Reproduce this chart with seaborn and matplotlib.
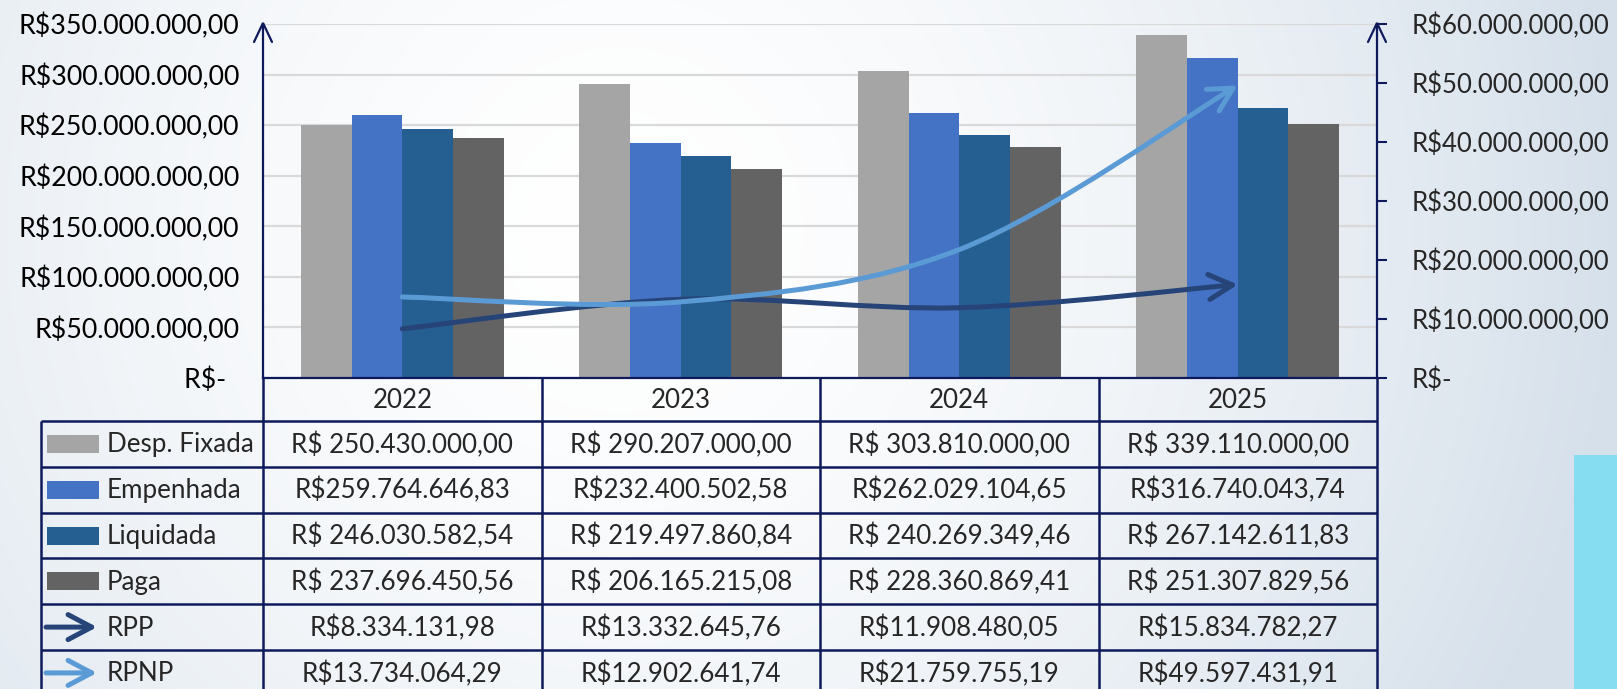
import numpy as np
import pandas as pd
import matplotlib
matplotlib.use("Agg")
import matplotlib.pyplot as plt
from matplotlib.patches import Rectangle, FancyArrowPatch
from matplotlib.path import Path
from matplotlib.ticker import FuncFormatter, MultipleLocator
import seaborn as sns

# dados
anos = ["2022", "2023", "2024", "2025"]
series_barras = ["Desp. Fixada", "Empenhada", "Liquidada", "Paga"]
desp_fixada = [250430000.00, 290207000.00, 303810000.00, 339110000.00]
empenhada = [259764646.83, 232400502.58, 262029104.65, 316740043.74]
liquidada = [246030582.54, 219497860.84, 240269349.46, 267142611.83]
paga = [237696450.56, 206165215.08, 228360869.41, 251307829.56]
rpp = [8334131.98, 13332645.76, 11908480.05, 15834782.27]
rpnp = [13734064.29, 12902641.74, 21759755.19, 49597431.91]

cores_barras = ["#a5a5a5", "#4472c4", "#255e91", "#636363"]
cor_rpp = "#264478"
cor_rpnp = "#5b9bd5"
navy = "#0e1a5c"

sns.set_style("white")
plt.rcParams["font.family"] = ["Lato", "DejaVu Sans"]
FS = 18.7
FS_ESQ = 19.3
FS_DIR = 18.5

W, H = 1617, 689
fig = plt.figure(figsize=(W / 100, H / 100), dpi=100)

# fundo em degradê
yy, xx = np.mgrid[0:H, 0:W]
d = np.hypot((xx - 620) / 1000, (yy - 230) / 1000)
t = np.clip(d, 0, 1) ** 1.6
c0 = np.array([1.0, 1.0, 1.0])
c1 = np.array([0.84, 0.88, 0.92])
img = c0 + (c1 - c0) * t[..., None]
bg = fig.add_axes([0, 0, 1, 1], zorder=-10)
bg.imshow(img, extent=[0, W, H, 0], aspect="auto", interpolation="bilinear")
bg.add_patch(Rectangle((1574, 455), W - 1574, H - 455, color="#86dcf0", lw=0))
bg.set_xlim(0, W)
bg.set_ylim(H, 0)
bg.axis("off")

# área do gráfico
L, R, T, B = 263, 1377, 24, 378
ax = fig.add_axes([L / W, 1 - B / H, (R - L) / W, (B - T) / H])
ax.patch.set_alpha(0)

linhas = []
for s, vals in zip(series_barras, [desp_fixada, empenhada, liquidada, paga]):
    for a, v in zip(anos, vals):
        linhas.append({"ano": a, "serie": s, "valor": v})
df = pd.DataFrame(linhas)

sns.barplot(data=df, x="ano", y="valor", hue="serie", order=anos, hue_order=series_barras,
            palette=cores_barras, width=0.728, gap=0, saturation=1, errorbar=None,
            linewidth=0, legend=False, ax=ax)


def brl(v, espaco=False):
    s = f"{v:,.2f}".replace(",", "X").replace(".", ",").replace("X", ".")
    return ("R$ " if espaco else "R$") + s


ax.set_xlim(-0.5, 3.5)
ax.set_ylim(0, 350e6)
ax.yaxis.set_major_locator(MultipleLocator(50e6))
ax.yaxis.set_major_formatter(FuncFormatter(lambda v, p: "R$-  " if v == 0 else brl(v)))
ax.tick_params(axis="y", length=0, pad=17, labelsize=FS_ESQ, labelcolor="black")
ax.tick_params(axis="x", length=0, labelbottom=False)
ax.set_xlabel("")
ax.set_ylabel("")
ax.yaxis.grid(True, color="#d9d9d9", lw=1.6)
ax.set_axisbelow(True)
for k in ["top", "right"]:
    ax.spines[k].set_visible(False)
for k in ["left", "bottom"]:
    ax.spines[k].set_color(navy)
    ax.spines[k].set_linewidth(1.6)

ax2 = ax.twinx()
ax2.set_ylim(0, 60e6)
ax2.yaxis.set_major_locator(MultipleLocator(10e6))
ax2.yaxis.set_major_formatter(FuncFormatter(lambda v, p: "R$-" if v == 0 else brl(v)))
ax2.tick_params(axis="y", length=7, width=1.5, color=navy, pad=18, labelsize=FS_DIR)
for k in ["top", "left", "bottom"]:
    ax2.spines[k].set_visible(False)
ax2.spines["right"].set_color(navy)
ax2.spines["right"].set_linewidth(1.6)
ax2.grid(False)


def curva_suave(xs, ys):
    pts = np.column_stack([xs, ys]).astype(float)
    ext = np.vstack([pts[0], pts, pts[-1]])
    verts = [tuple(pts[0])]
    codes = [Path.MOVETO]
    for i in range(len(pts) - 1):
        p0, p1, p2, p3 = ext[i], ext[i + 1], ext[i + 2], ext[i + 3]
        verts += [tuple(p1 + (p2 - p0) / 6), tuple(p2 - (p3 - p1) / 6), tuple(p2)]
        codes += [Path.CURVE4] * 3
    return Path(verts, codes)


estilo_seta = "->,head_length=0.85,head_width=0.45"
xs = np.arange(len(anos))
for vals, cor in [(rpp, cor_rpp), (rpnp, cor_rpnp)]:
    seta = FancyArrowPatch(path=curva_suave(xs, vals), arrowstyle=estilo_seta, mutation_scale=20,
                           lw=3.6, color=cor, transform=ax2.transData, capstyle="round",
                           joinstyle="round")
    ax2.add_patch(seta)

# tabela de dados
tab = fig.add_axes([0, 0, 1, 1], zorder=5)
tab.set_xlim(0, W)
tab.set_ylim(H, 0)
tab.axis("off")

cols = L + (R - L) * np.arange(5) / 4
x0_tab = 41
y_ano = 421
alt = 45.8
rows = y_ano + alt * np.arange(7)
lw_t = 1.8
kw = dict(color=navy, lw=lw_t, solid_capstyle="butt")

# setas nas pontas dos eixos
for x in [L, R]:
    tab.plot([x - 9, x, x + 9], [42, T - 1, 42], color=navy, lw=1.6, solid_joinstyle="miter")
    tab.plot([x, x], [B, H + 5], **kw)
for x in cols[1:-1]:
    tab.plot([x, x], [B, H + 5], **kw)
tab.plot([x0_tab, x0_tab], [y_ano, H + 5], **kw)
for y in rows:
    tab.plot([x0_tab, R], [y, y], **kw)

for i, a in enumerate(anos):
    tab.text((cols[i] + cols[i + 1]) / 2, (B + y_ano) / 2 + 1, a, ha="center", va="center", fontsize=FS)

valores_tab = [(desp_fixada, True), (empenhada, False), (liquidada, True), (paga, True),
               (rpp, False), (rpnp, False)]
nomes_tab = series_barras + ["RPP", "RPNP"]
for r, (nome, (vals, esp)) in enumerate(zip(nomes_tab, valores_tab)):
    yc = (rows[r] + rows[r + 1]) / 2
    tab.text(107, yc + 1, nome, ha="left", va="center", fontsize=FS)
    if r < 4:
        tab.add_patch(Rectangle((47, yc - 9), 52, 18, color=cores_barras[r], lw=0))
    else:
        cor = cor_rpp if nome == "RPP" else cor_rpnp
        tab.add_patch(FancyArrowPatch((46, yc), (97, yc), arrowstyle=estilo_seta, mutation_scale=20,
                                      lw=3.6, color=cor, capstyle="round", joinstyle="round",
                                      shrinkA=0, shrinkB=0))
    for i, v in enumerate(vals):
        tab.text((cols[i] + cols[i + 1]) / 2, yc + 1, brl(v, esp), ha="center", va="center", fontsize=FS)

fig.savefig("out.png", dpi=100)
